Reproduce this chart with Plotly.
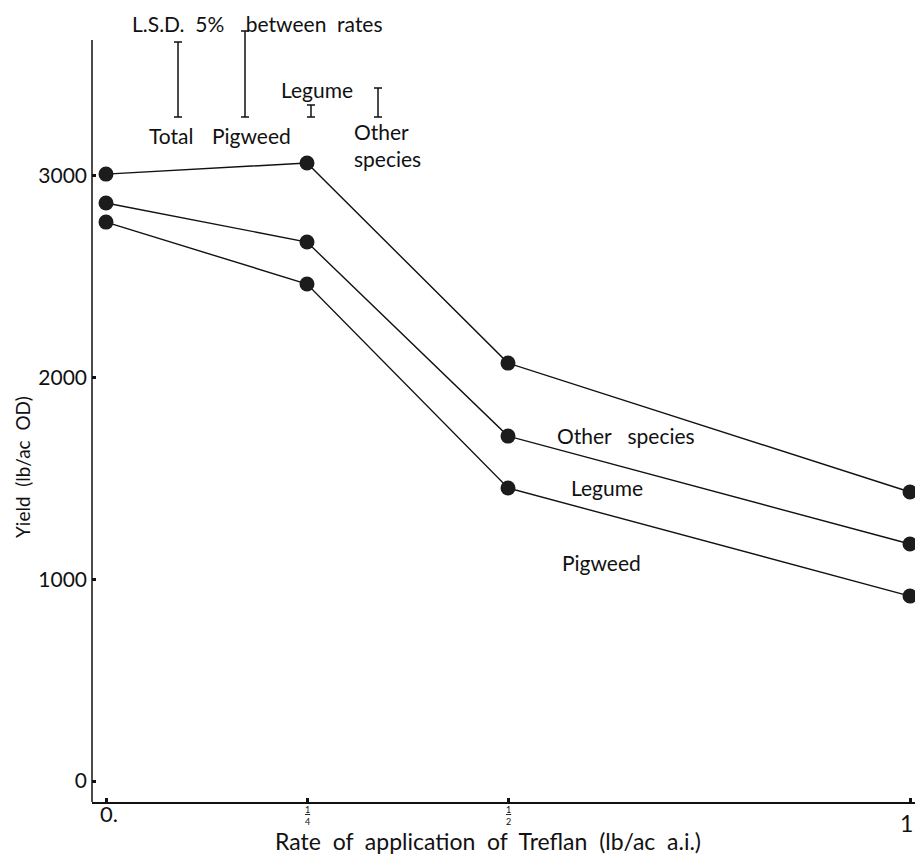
import plotly.graph_objects as go

# Treflan application rates (lb/ac a.i.) and their axis labels
rates = [0, 0.25, 0.5, 1]
rate_tick_labels = ["0.", "1/4", "1/2", "1"]
yield_ticks = [0, 1000, 2000, 3000]

# Yield (lb/ac OD) for each weed group
other_species = [3009, 3064, 2072, 1433]
legume = [2866, 2672, 1710, 1175]
pigweed = [2771, 2464, 1453, 917]

# L.S.D. 5% between rates
lsd_groups = ["Total", "Pigweed", "Legume", "Other species"]
lsd_values = [372, 426, 60, 144]

FONT = "Lato"
INK = "#111111"

# plotting area spans x 92..915 px and y 20..802 px
PL, PR, PT, PB = 92, 915, 20, 802
X_RANGE = [-0.01741, 1.00622]
Y_RANGE = [-104, 3773]


def xd(px):
    return X_RANGE[0] + (px - PL) * (X_RANGE[1] - X_RANGE[0]) / (PR - PL)


def yd(py):
    return Y_RANGE[0] + (PB - py) * (Y_RANGE[1] - Y_RANGE[0]) / (PB - PT)


def xp(px):
    return (px - PL) / (PR - PL)


def yp(py):
    return (PB - py) / (PB - PT)


fig = go.Figure()

for series in (other_species, legume, pigweed):
    fig.add_trace(go.Scatter(
        x=rates, y=series, mode="lines+markers",
        line=dict(color=INK, width=1.4),
        marker=dict(size=15, color="#1c1c1c", line=dict(width=0)),
        cliponaxis=False, showlegend=False, hoverinfo="skip",
    ))

# L.S.D. bars drawn upward from a common base
lsd_x = [xd(178), xd(245), xd(311), xd(378)]
lsd_base = yd(117)
fig.add_trace(go.Scatter(
    x=lsd_x, y=[lsd_base] * len(lsd_values), mode="markers",
    marker=dict(size=1, color="rgba(0,0,0,0)"),
    error_y=dict(type="data", symmetric=False, array=lsd_values,
                 arrayminus=[0] * len(lsd_values), width=4,
                 thickness=1.5, color=INK),
    cliponaxis=False, showlegend=False, hoverinfo="skip",
))

ann = []


def label(text, px, py, size=21, xanchor="center", yanchor="middle",
          align="center", angle=0):
    ann.append(dict(text=text, x=xp(px), y=yp(py), xref="paper", yref="paper",
                    showarrow=False, xanchor=xanchor, yanchor=yanchor,
                    align=align, textangle=angle, borderpad=0,
                    font=dict(family=FONT, size=size, color=INK)))


label("L.S.D.&nbsp; 5%&nbsp;&nbsp;&nbsp; between&nbsp; rates", 131, 23,
      xanchor="left")

lsd_label_pos = {"Total": (171, 135), "Pigweed": (251, 135),
                 "Legume": (317, 90), "Other species": (353, 145)}
for g in lsd_groups:
    px, py = lsd_label_pos[g]
    if g == "Other species":
        label("Other<br>species", px, py, xanchor="left", align="left")
    else:
        label(g, px, py)

label("Other&nbsp;&nbsp; species", 626, 435)
label("Legume", 607, 487)
label("Pigweed", 601, 562)

# axis titles
label("Rate&nbsp; of&nbsp; application&nbsp; of&nbsp; Treflan&nbsp; (lb/ac&nbsp; a.i.)",
      488, 855.5, size=23, yanchor="bottom")
label("Yield&nbsp; (lb/ac&nbsp; OD)", 22, 467, size=19, angle=-90)


# x tick labels: plain numbers plus stacked fractions
def tick_note(text, r, py, size, xanchor="center", yanchor="middle", xshift=0):
    ann.append(dict(text=text, x=r, y=yp(py), xref="x", yref="paper",
                    showarrow=False, xanchor=xanchor, yanchor=yanchor,
                    xshift=xshift, borderpad=0,
                    font=dict(family=FONT, size=size, color=INK)))


for r, t in zip(rates, rate_tick_labels):
    if "/" in t:
        num, den = t.split("/")
        tick_note(f"<u>{num}</u><br>{den}", r, 803, 9, yanchor="top")
    elif r == 0:
        tick_note(t, r, 813, 22, xanchor="left", xshift=-7)
    else:
        tick_note(t, r, 823, 23, xanchor="right", xshift=4)

fig.update_layout(
    width=915, height=856,
    margin=dict(l=PL, r=915 - PR, t=PT, b=856 - PB),
    paper_bgcolor="white", plot_bgcolor="white",
    font=dict(family=FONT, size=21, color=INK),
    annotations=ann,
    xaxis=dict(range=X_RANGE, tickvals=rates, showticklabels=False,
               ticks="inside", ticklen=4, tickwidth=3, tickcolor=INK,
               showline=True, linecolor=INK, linewidth=1.5,
               showgrid=False, zeroline=False),
    yaxis=dict(range=Y_RANGE, tickvals=yield_ticks,
               ticks="inside", ticklen=4, tickwidth=3, tickcolor=INK,
               showline=False, showgrid=False, zeroline=False,
               ticklabelstandoff=4,
               tickfont=dict(family=FONT, size=21, color=INK)),
    shapes=[dict(type="line", xref="paper", yref="y", x0=0, x1=0,
                 y0=Y_RANGE[0], y1=yd(40),
                 line=dict(color=INK, width=1.5))],
)

fig.write_html("out.html")
